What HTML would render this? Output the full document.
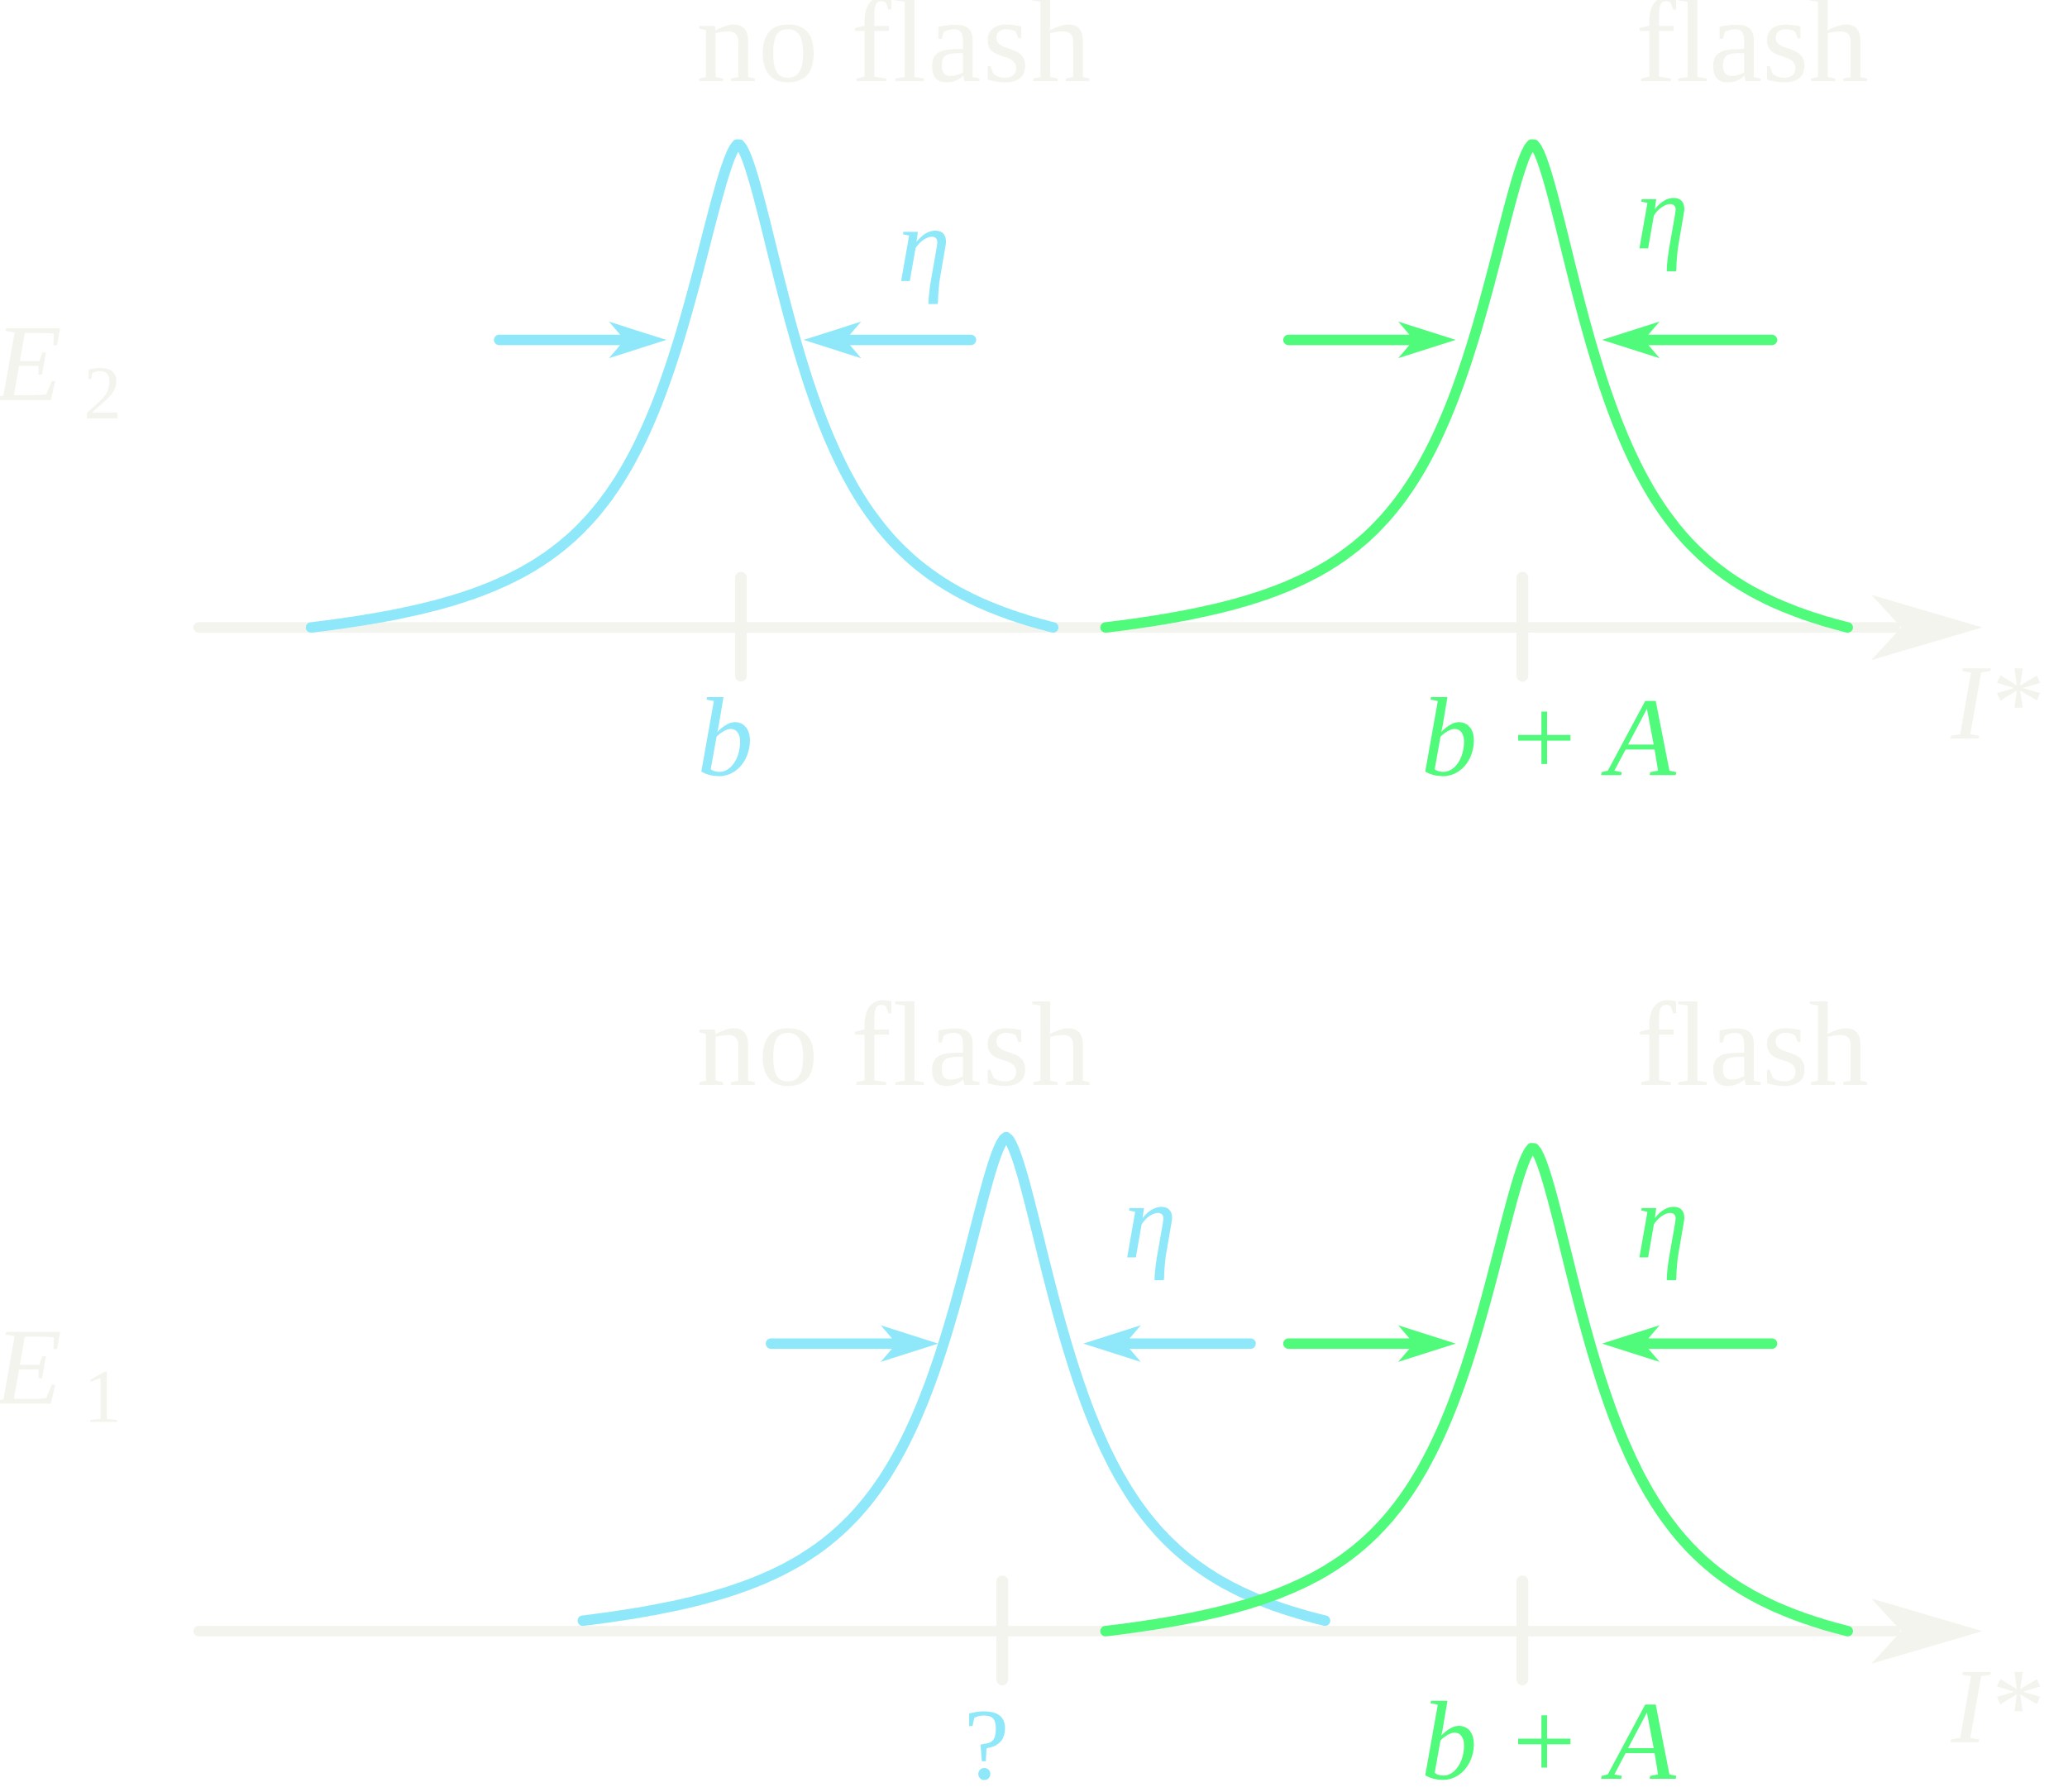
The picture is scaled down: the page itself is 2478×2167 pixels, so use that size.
<!DOCTYPE html>
<html><head><meta charset="utf-8"><style>
html,body{margin:0;padding:0;background:#fff;}
svg{display:block;}
text{font-family:"Liberation Serif",serif;}
</style></head><body>
<svg id="chart" width="2478" height="2167" viewBox="0 0 1568 1371" xmlns="http://www.w3.org/2000/svg">
</svg>
<script>
// panel data
const panelBaselines = [480, 1248];
const panelLabels = ["E", "E"];
const panelSubs = ["2", "1"];
// curves
const curveCenters = [565, 1173, 770, 1173];
const curvePeaks = [110, 110, 870, 878];
const curveBases = [480, 480, 1240, 1248];
const curveLeftSpan = [327, 327, 324, 327];
const curveRightSpan = [241, 241, 244, 241];
const curveColors = ["#8ee8fa", "#50fa7b", "#8ee8fa", "#50fa7b"];
const tickX = [[567, 1165], [767, 1165]];
const tickLabels = [["b", "b + A"], ["?", "b + A"]];
const tickColors = [["#8ee8fa", "#50fa7b"], ["#8ee8fa", "#50fa7b"]];
const arrowLeftStart = [382, 986, 590, 986];
const arrowLeftEnd = [510, 1114, 718, 1114];
const arrowRightStart = [743, 1356, 957, 1356];
const arrowRightEnd = [615, 1226, 829, 1226];
const arrowY = [260, 260, 1028, 1028];
const etaPos = [[707, 215], [1272, 190], [880, 962], [1272, 962]];

const svg = document.getElementById('chart');
const NS = "http://www.w3.org/2000/svg";
function mk(tag, attrs){const e=document.createElementNS(NS,tag);for(const k in attrs)e.setAttribute(k,attrs[k]);svg.appendChild(e);return e;}
const LIGHT="#f4f4ee";

panelBaselines.forEach((y,p)=>{
  const ax=mk('line',{x1:152,y1:y,x2:1450,y2:y,stroke:LIGHT,'stroke-width':8,'stroke-linecap':'round'});
  
  
  const hd=mk('path',{d:`M1432,${y-25} L1517,${y} L1432,${y+25} L1455,${y} Z`,fill:LIGHT});
  
  
  const it=mk('text',{x:1493,y:y+85,'font-size':82,'font-style':'italic',fill:LIGHT});
  it.textContent="I*";
  
  
  const el=mk('text',{x:-4,y:y-174,'font-size':84,'font-style':'italic',fill:LIGHT});
  el.textContent=panelLabels[p];
  
  
  const sb=mk('text',{x:64,y:y-160,'font-size':58,fill:LIGHT});
  sb.textContent=panelSubs[p];
  
  
  const t1=mk('text',{x:533,y:y-418,'font-size':92,fill:LIGHT,textLength:302});
  t1.textContent="no flash";
  
  
  const t2=mk('text',{x:1252,y:y-418,'font-size':92,fill:LIGHT,textLength:178});
  t2.textContent="flash";
  
  
  tickX[p].forEach((tx,i)=>{
    const tk=mk('line',{x1:tx,y1:y-38,x2:tx,y2:y+37,stroke:LIGHT,'stroke-width':9,'stroke-linecap':'round'});
    
    
    const lab=tickLabels[p][i];
    const tl=mk('text',{x:tx+(lab.length>1?20:-12),y:y+113,'font-size':lab==="?"?78:86,'font-style':lab==="?"?'normal':'italic','text-anchor':'middle',fill:tickColors[p][i]});
    tl.textContent=lab;
    
    
  });
});

function shape(d){const w=62;return 1/(1+Math.pow(Math.abs(d)/w,1.6));}
curveCenters.forEach((c,i)=>{
  const H=curveBases[i]-curvePeaks[i], ls=curveLeftSpan[i], rs=curveRightSpan[i];
  const fl=shape(ls), fr=shape(rs);
  let d="";
  for(let x=-ls;x<=rs;x+=2){
    const f0=x<0?fl:fr;
    const f=(shape(x)-f0)/(1-f0);
    d+=(x===-ls?"M":"L")+(c+x).toFixed(1)+","+(curveBases[i]-H*f).toFixed(1)+" ";
  }
  const p=mk('path',{d,fill:'none',stroke:curveColors[i],'stroke-width':8,'stroke-linecap':'round','stroke-linejoin':'round'});
  
  
  const col=curveColors[i], y=arrowY[i];
  [[arrowLeftStart[i],arrowLeftEnd[i]],[arrowRightStart[i],arrowRightEnd[i]]].forEach(([s,e])=>{
    const dir=Math.sign(e-s);
    const ln=mk('line',{x1:s,y1:y,x2:e-dir*30,y2:y,stroke:col,'stroke-width':8,'stroke-linecap':'round'});
    
    
    const h=mk('path',{d:`M${e},${y} L${e-dir*44},${y-14} L${e-dir*32},${y} L${e-dir*44},${y+14} Z`,fill:col});
    
    
  });
  const et=mk('text',{x:etaPos[i][0],y:etaPos[i][1],'font-size':82,'font-style':'italic','text-anchor':'middle',fill:col});
  et.textContent="η";
  
  
});
</script>
</body></html>
